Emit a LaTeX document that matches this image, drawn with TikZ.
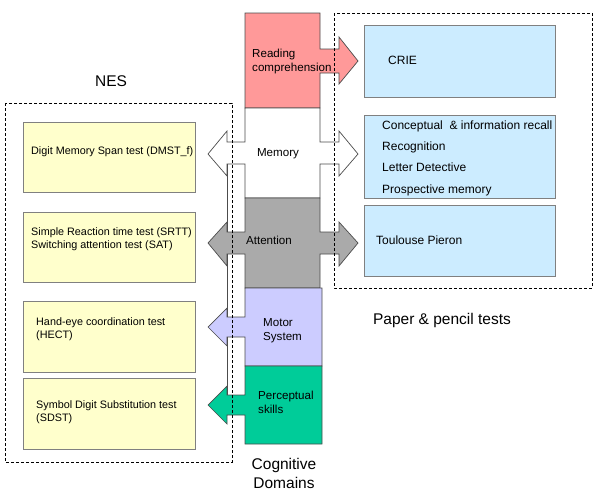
\documentclass[tikz,border=0pt]{standalone}
\usepackage{fontspec}
\setmainfont{Liberation Sans}
\definecolor{readpink}{RGB}{255,153,153}
\definecolor{attgray}{RGB}{170,170,170}
\definecolor{motorlav}{RGB}{204,204,255}
\definecolor{perctea}{RGB}{0,204,153}
\definecolor{nesyellow}{RGB}{255,255,204}
\definecolor{penblue}{RGB}{204,236,255}
\begin{document}
\begin{tikzpicture}[x=1pt, y=-1pt,
    domshape/.style={draw=black!70, line width=0.7pt, line join=miter},
    testbox/.style={draw=black!50, line width=0.8pt, fill=nesyellow},
    penbox/.style={draw=black!50, line width=0.8pt, fill=penblue},
    groupbox/.style={draw=black, line width=0.6pt, dash pattern=on 3pt off 2pt},
    nestext/.style={anchor=west, align=left, inner sep=0pt, font=\fontsize{10.8}{13}\selectfont},
    pentext/.style={anchor=west, align=left, inner sep=0pt, font=\fontsize{12}{21.3}\selectfont},
    domtext/.style={align=left, inner sep=0pt, font=\fontsize{11.6}{14.4}\selectfont},
    grouptitle/.style={align=center, inner sep=0pt, font=\fontsize{15.5}{19}\selectfont}]
    \useasboundingbox (0,0) rectangle (600,493);

    % NES tests
    \draw[testbox] (23,122) rectangle (195,192);
    \draw[testbox] (23,212) rectangle (195,282);
    \draw[testbox] (23,301) rectangle (195,372);
    \draw[testbox] (23,378) rectangle (195,449);
    \node[nestext] (dmst) at (31,152) {Digit Memory Span test (DMST\_f)};
    \node[nestext] (srtt) at (31,239.5) {Simple Reaction time test (SRTT)\\Switching attention test (SAT)};
    \node[nestext] (hect) at (36,329) {Hand-eye coordination test\\(HECT)};
    \node[nestext] (sdst) at (36,412.5) {Symbol Digit Substitution test\\(SDST)};

    % paper & pencil tests
    \draw[penbox] (364,25) rectangle (555,97);
    \draw[penbox] (364,115) rectangle (555,198);
    \draw[penbox] (364,205) rectangle (555,276);
    \node[pentext] (crie) at (388,60) {CRIE};
    \node[pentext] (recall) at (382,158) {Conceptual\ \ \& information recall\\Recognition\\Letter Detective\\Prospective memory};
    \node[pentext] (tp) at (376,240) {Toulouse Pieron};

    % cognitive domains
    \draw[domshape, fill=readpink] (245,13) -- (320,13) -- (320,49) -- (339,49) -- (339,37)
        -- (358,61) -- (339,84) -- (339,73) -- (320,73) -- (320,108) -- (245,108) -- cycle;
    \draw[domshape, fill=white] (245,108) -- (320,108) -- (320,142) -- (339,142) -- (339,131)
        -- (358,154) -- (339,176) -- (339,164) -- (320,164) -- (320,198) -- (245,198)
        -- (245,164) -- (227,164) -- (227,176) -- (208,154) -- (227,131) -- (227,142)
        -- (245,142) -- cycle;
    \draw[domshape, fill=attgray] (245,198) -- (320,198) -- (320,232) -- (339,232) -- (339,222)
        -- (358,243) -- (339,266) -- (339,254) -- (320,254) -- (320,288) -- (245,288)
        -- (245,254) -- (227,254) -- (227,266) -- (208,243) -- (227,222) -- (227,232)
        -- (245,232) -- cycle;
    \draw[domshape, fill=motorlav] (245,288) -- (322,288) -- (322,366) -- (245,366)
        -- (245,337) -- (227,337) -- (227,346) -- (208,327) -- (227,308) -- (227,317)
        -- (245,317) -- cycle;
    \draw[domshape, fill=perctea] (245,366) -- (322,366) -- (322,444) -- (245,444)
        -- (245,415) -- (227,415) -- (227,424) -- (208,405) -- (227,386) -- (227,395)
        -- (245,395) -- cycle;
    \draw[domshape] (227,164) -- (227,232);
    \draw[domshape] (227,254) -- (227,317);
    \draw[domshape] (227,337) -- (227,395);

    \node[domtext, anchor=west] (read) at (252,61.5) {Reading\\comprehension};
    \node[domtext] (mem) at (278,154) {Memory};
    \node[domtext] (att) at (269,240) {Attention};
    \node[domtext, anchor=west] (motor) at (263,330.5) {Motor\\System};
    \node[domtext, anchor=west] (perc) at (258,402.5) {Perceptual\\skills};

    % groups
    \draw[groupbox] (5,103) rectangle (232,462);
    \draw[groupbox] (334,13) rectangle (592,288);
    \node[grouptitle] (nes) at (111,81) {NES};
    \node[grouptitle] (paper) at (442,320) {Paper \& pencil tests};
    \node[grouptitle] (cogdom) at (284,473) {Cognitive\\Domains};
\end{tikzpicture}
\end{document}
